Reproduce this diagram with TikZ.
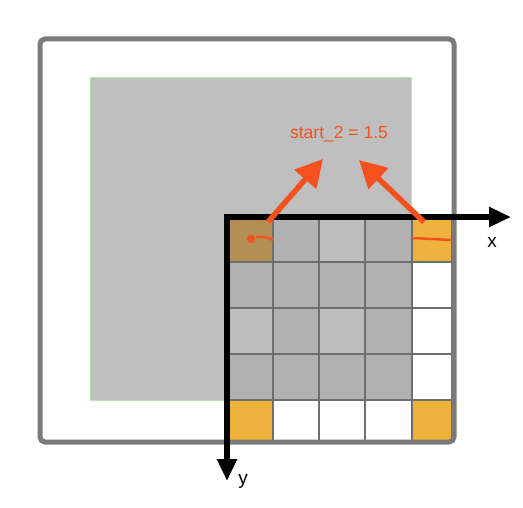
\documentclass[tikz,border=0pt]{standalone}
\usepackage{fontspec}
\setmainfont{Liberation Sans}
\usepackage{xcolor}
\usetikzlibrary{arrows.meta}
\definecolor{framegray}{HTML}{7A7A7A}
\definecolor{padgray}{HTML}{BFBFBF}
\definecolor{padedge}{HTML}{B8E0B0}
\definecolor{celldark}{HTML}{B2B1B2}
\definecolor{celllight}{HTML}{BEBEBE}
\definecolor{cellbrown}{HTML}{B38E55}
\definecolor{cellyellow}{HTML}{EFB23D}
\definecolor{gridgray}{HTML}{6E6E6E}
\definecolor{markred}{HTML}{F4511E}

\begin{document}
\begin{tikzpicture}[x=1pt, y=-1pt,
  frame/.style = {draw=framegray, line width=5pt, rounded corners=5pt},
  pad/.style = {fill=padgray, draw=padedge, line width=1pt},
  gridline/.style = {draw=gridgray, line width=1.6pt},
  axis/.style = {line width=6pt, line join=miter, {Triangle[length=22pt,width=19pt]}-{Triangle[length=22pt,width=19pt]}},
  pointer/.style = {draw=markred, line width=5.5pt, -{Triangle[length=27pt,width=28pt]}},
  stroke/.style = {draw=markred, line width=2.5pt, line cap=round},
  lbl/.style = {text=markred, font=\fontsize{17.5}{20}\selectfont, inner sep=0pt},
  axlbl/.style = {font=\fontsize{19}{22}\selectfont, inner sep=0pt}]
\useasboundingbox (0,0) rectangle (523,508);

% image and padded region
\fill[white] (40,39) rectangle (454,442);
\path[pad] (90,78) rectangle (411,400);

% grid cells
\fill[celldark] (227,217) rectangle (412,400);
\fill[celllight] (319,217) rectangle (365,262);
\fill[celllight] (227,308) rectangle (273,354);
\fill[celllight] (319,308) rectangle (365,354);
\fill[cellbrown] (227,217) rectangle (273,262);
\fill[cellyellow] (412,217) rectangle (452,262);
\fill[cellyellow] (227,400) rectangle (273,442);
\fill[cellyellow] (412,400) rectangle (452,442);
\foreach \gx in {273,319,365,412,452}
  \draw[gridline] (\gx,217) -- (\gx,442);
\foreach \gy in {262,308,354,400,442}
  \draw[gridline] (227,\gy) -- (452,\gy);

% outer frame
\draw[frame] (40,39) rectangle (454,442);

% axes
\coordinate (origin) at (227,217);
\coordinate (xend) at (511,217);
\coordinate (yend) at (227,481);
\draw[axis] (yend) -- (origin) -- (xend);
\node[axlbl] (xlbl) at (492,242) {x};
\node[axlbl] (ylbl) at (243,481) {y};

% start marks
\fill[markred] (251,239) circle (4pt);
\coordinate (s1a) at (257,237);
\coordinate (s1b) at (273,240);
\draw[stroke] (s1a) to[bend left=15] (s1b);
\coordinate (s2a) at (413,238);
\coordinate (s2b) at (451,240);
\draw[stroke] (s2a) -- (s2b);

% label and pointers
\node[lbl] (start) at (339,134) {start\_2 = 1.5};
\coordinate (p1) at (268,222);
\coordinate (t1) at (323,159);
\coordinate (p2) at (424,222);
\coordinate (t2) at (359,160);
\draw[pointer] (p1) -- (t1);
\draw[pointer] (p2) -- (t2);
\end{tikzpicture}
\end{document}
